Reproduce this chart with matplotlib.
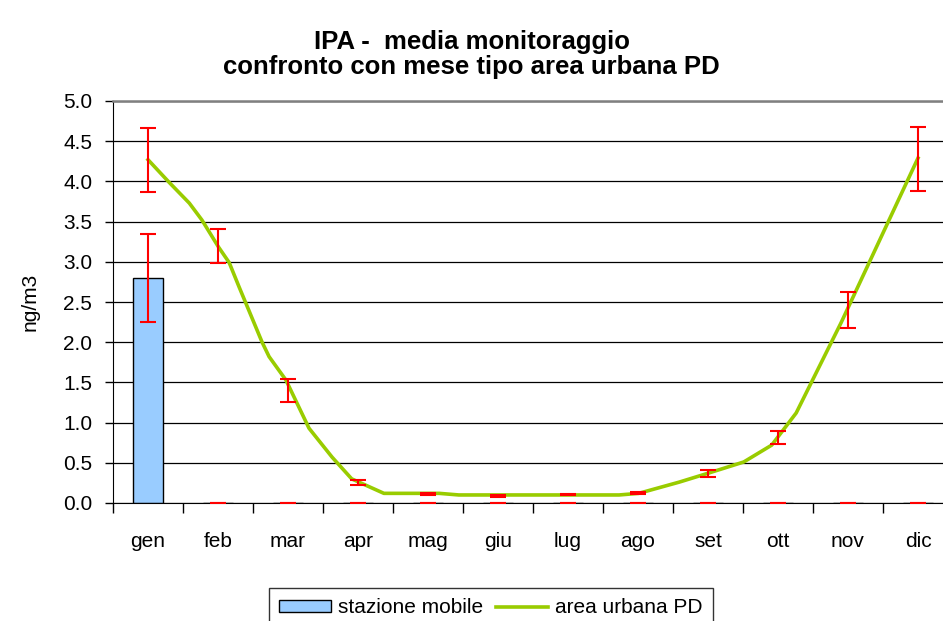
import matplotlib
matplotlib.use("Agg")
import matplotlib.pyplot as plt
import numpy as np

plt.rcParams['font.family'] = ['Liberation Sans', 'DejaVu Sans']

months = ["gen", "feb", "mar", "apr", "mag", "giu", "lug", "ago", "set", "ott", "nov", "dic"]

# stazione mobile (bar) values and error
station_vals = [2.80, 0, 0, 0, 0, 0, 0, 0, 0, 0, 0, 0]
station_err = [0.55, 0, 0, 0, 0, 0, 0, 0, 0, 0, 0, 0]

# area urbana PD: monthly means with error bars
urban_month_vals = [4.27, 3.20, 1.40, 0.255, 0.11, 0.09, 0.105, 0.125, 0.365, 0.82, 2.40, 4.28]
urban_month_err = [0.40, 0.21, 0.14, 0.035, 0.01, 0.01, 0.01, 0.01, 0.045, 0.08, 0.22, 0.40]

# area urbana PD: detailed curve (position in months, value)
urban_curve_pos = [0.00, 0.30, 0.59, 0.77, 1.01, 1.16, 1.30, 1.41, 1.63, 1.73, 1.97, 2.30,
                   2.63, 2.91, 3.37, 4.16, 4.44, 6.73, 7.01, 7.30, 7.59, 8.00, 8.51, 8.91,
                   9.26, 9.90, 11.00]
urban_curve_vals = [4.27, 3.99, 3.73, 3.52, 3.18, 2.99, 2.69, 2.46, 2.00, 1.82, 1.53, 0.93,
                    0.57, 0.30, 0.12, 0.12, 0.10, 0.10, 0.12, 0.19, 0.26, 0.37, 0.51, 0.72,
                    1.12, 2.24, 4.29]

yticks = [0.0, 0.5, 1.0, 1.5, 2.0, 2.5, 3.0, 3.5, 4.0, 4.5, 5.0]

FS = 15

fig = plt.figure(figsize=(9.43, 6.21), dpi=100)
ax = fig.add_axes([113/943, (621-503)/621, 840/943, 402/621])

x = np.arange(len(months))
ax.set_axisbelow(True)
ax.yaxis.grid(True, color='black', linewidth=0.9)

bars = ax.bar(x, station_vals, width=0.42, color='#99CCFF', edgecolor='black',
              linewidth=1.0, label='stazione mobile', zorder=2)
ax.errorbar(x, station_vals, yerr=station_err, fmt='none', ecolor='#FF0000',
            elinewidth=1.5, capsize=5.5, capthick=1.5, zorder=3)

line, = ax.plot(urban_curve_pos, urban_curve_vals, color='#99CC00', linewidth=2.6,
                label='area urbana PD', zorder=4, solid_joinstyle='round')
ax.errorbar(x, urban_month_vals, yerr=urban_month_err, fmt='none', ecolor='#FF0000',
            elinewidth=1.5, capsize=5.5, capthick=1.5, zorder=5)

ax.set_xlim(-0.5, 11.5)
ax.set_ylim(0, 5.0)
ax.set_yticks(yticks)
ax.set_yticklabels([f"{v:.1f}" for v in yticks], fontsize=FS)
ax.set_xticks(x)
ax.set_xticklabels(months, fontsize=FS)
ax.set_xticks(np.arange(-0.5, 12, 1), minor=True)
ax.tick_params(axis='x', which='major', length=0, pad=21)
ax.tick_params(axis='x', which='minor', length=7, width=1, color='black')
ax.tick_params(axis='y', length=6, width=1, color='black', pad=9)

ax.spines['top'].set_color('#808080')
ax.spines['top'].set_linewidth(1.8)
ax.spines['right'].set_visible(False)
ax.spines['left'].set_color('black')
ax.spines['bottom'].set_color('black')

ax.set_ylabel('ng/m3', fontsize=FS, labelpad=17)

fig.text(0.5, 1 - 42/621, 'IPA -  media monitoraggio', ha='center', va='center',
         fontsize=18.5, fontweight='bold')
fig.text(0.5, 1 - 67/621, 'confronto con mese tipo area urbana PD', ha='center', va='center',
         fontsize=18.5, fontweight='bold')

leg = fig.legend(handles=[bars, line], labels=['stazione mobile', 'area urbana PD'],
                 loc='upper center', bbox_to_anchor=(491/943, 1 - 588/621), ncol=2,
                 fontsize=FS, frameon=True, fancybox=False, edgecolor='black',
                 handlelength=2.5, handleheight=0.55, columnspacing=0.6, handletextpad=0.35,
                 borderpad=0.5, borderaxespad=0)
leg.get_frame().set_linewidth(1.0)

fig.savefig('out.png', dpi=100)
